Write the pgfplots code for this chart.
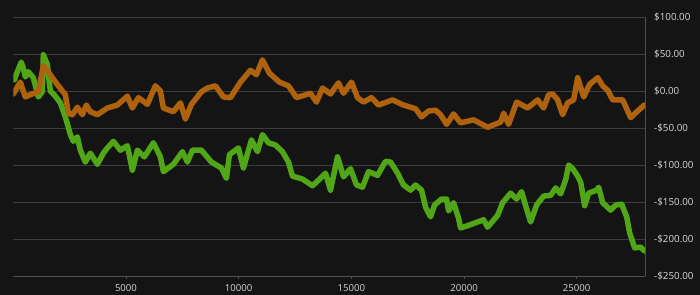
\documentclass[border=0pt]{standalone}
\usepackage{pgfplots}
\pgfplotsset{compat=1.18}
\usepackage{fontspec}
\setmainfont{Open Sans}
\definecolor{bg}{HTML}{141414}
\definecolor{gridc}{HTML}{3C3C3C}
\definecolor{axc}{HTML}{505050}
\definecolor{txt}{HTML}{D8D8D8}
\definecolor{orangeS}{HTML}{AE620E}
\definecolor{greenS}{HTML}{50A616}
\begin{document}
\begin{tikzpicture}
\useasboundingbox (0,0) rectangle (700bp,295bp);
\fill[bg] (0,0) rectangle (700bp,295bp);
\begin{axis}[
  at={(13.3bp,19bp)}, anchor=south west,
  scale only axis, width=631.7bp, height=259bp,
  xmin=0, xmax=28030, ymin=-250, ymax=100,
  axis x line*=bottom, axis y line*=right,
  axis line style={draw=axc, line width=0.8bp},
  ymajorgrids, grid style={draw=gridc, line width=0.8bp},
  xtick={5000,10000,15000,20000,25000},
  xticklabels={5000,10000,15000,20000,25000},
  ytick={-250,-200,-150,-100,-50,0,50,100},
  yticklabels={-\$250.00,-\$200.00,-\$150.00,-\$100.00,-\$50.00,\$0.00,\$50.00,\$100.00},
  tick align=outside,
  xtick style={draw=axc, line width=0.8bp},
  major tick length=3bp,
  ytick style={draw=none},
  xticklabel style={anchor=north, inner sep=0pt, yshift=-5bp, text=txt, font=\fontsize{9.6bp}{11bp}\selectfont},
  yticklabel style={anchor=west, inner sep=0pt, xshift=6bp, text=txt, font=\fontsize{9.8bp}{11bp}\selectfont},
  clip=true,
]
\addplot[draw=greenS, line width=5.5bp, line join=round, line cap=round] coordinates {
(44,15)(178,26)(355,39)(444,31)(533,19)(666,26)(888,18)(1110,-8)(1288,-1)(1332,49)(1510,36)(1643,0)(1865,-7)(2087,-16)(2309,-35)(2442,-49)(2531,-59)(2664,-68)(2842,-62)(2975,-80)(3197,-96)(3419,-84)(3730,-99)(3996,-84)(4174,-77)(4440,-68)(4751,-80)(5062,-74)(5284,-107)(5506,-80)(5816,-89)(6216,-70)(6527,-89)(6660,-109)(7104,-99)(7504,-82)(7726,-96)(7948,-80)(8347,-80)(8791,-96)(9235,-104)(9457,-118)(9590,-86)(9990,-77)(10212,-104)(10567,-66)(10834,-82)(11056,-59)(11322,-70)(11633,-73)(11944,-82)(12210,-96)(12388,-115)(12832,-119)(13276,-128)(13631,-118)(13853,-111)(14075,-134)(14386,-89)(14652,-116)(14963,-105)(15229,-127)(15496,-130)(15762,-109)(16162,-114)(16517,-95)(16739,-96)(17050,-111)(17316,-127)(17627,-134)(17849,-127)(18115,-134)(18293,-157)(18515,-170)(18692,-154)(19003,-146)(19225,-146)(19314,-162)(19536,-151)(19758,-172)(19847,-185)(20158,-182)(20602,-177)(20868,-174)(21046,-184)(21490,-168)(21712,-151)(22067,-138)(22333,-146)(22555,-136)(22733,-155)(22955,-177)(23221,-154)(23532,-142)(23843,-141)(24065,-131)(24287,-139)(24509,-120)(24642,-100)(24820,-105)(25042,-115)(25175,-123)(25352,-155)(25530,-138)(25885,-134)(25974,-130)(26152,-151)(26507,-161)(26729,-154)(26995,-153)(27217,-170)(27350,-192)(27572,-212)(27839,-211)(28000,-216)
};
\addplot[draw=orangeS, line width=5.5bp, line join=round, line cap=round] coordinates {
(0,-4)(311,12)(533,-8)(755,-5)(1110,-1)(1332,34)(1510,28)(1732,18)(1998,7)(2309,-5)(2442,-30)(2620,-32)(2842,-22)(3064,-32)(3241,-19)(3419,-28)(3730,-32)(4174,-23)(4618,-19)(5062,-7)(5284,-23)(5550,-9)(5950,-18)(6305,7)(6527,0)(6660,-23)(7104,-28)(7415,-16)(7637,-38)(7903,-18)(8347,-1)(8614,4)(8969,7)(9324,-8)(9635,-9)(10079,12)(10523,28)(10789,22)(11056,42)(11366,24)(11810,12)(12210,7)(12565,-9)(13187,-3)(13453,-15)(13720,4)(14075,-4)(14430,11)(14652,-3)(15007,12)(15274,-9)(15540,-15)(15895,-9)(16206,-19)(16828,-12)(17316,-19)(17849,-24)(18115,-35)(18426,-27)(18737,-26)(18959,-32)(19225,-45)(19536,-31)(19847,-43)(20424,-39)(21046,-49)(21623,-42)(21756,-30)(21978,-45)(22333,-15)(22822,-23)(23266,-12)(23532,-23)(23754,-5)(23932,-4)(24154,-12)(24376,-32)(24598,-16)(24864,-12)(25042,18)(25308,-8)(25574,9)(25930,18)(26152,7)(26374,1)(26596,-12)(27040,-12)(27395,-36)(27706,-27)(28000,-19)
};
\end{axis}
\end{tikzpicture}
\end{document}
